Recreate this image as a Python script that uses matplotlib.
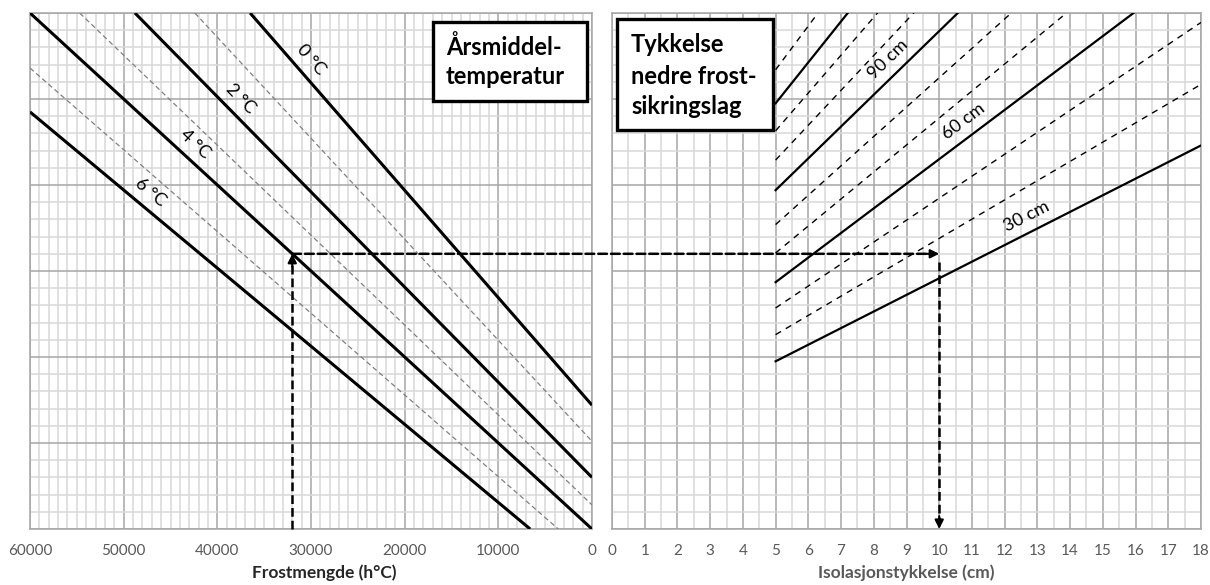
import numpy as np
import matplotlib
matplotlib.use("Agg")
import matplotlib.pyplot as plt
from matplotlib.patches import ConnectionPatch, Rectangle
from matplotlib.ticker import MultipleLocator

plt.rcParams['font.family'] = ['Lato', 'DejaVu Sans']

### left diagram: frost amount vs depth, one line per annual mean temperature
temps = [0, 1, 2, 3, 4, 5, 6]
frost_start = [36500, 42400, 48800, 54700, 60000, 60000, 60000]
depth_start = [6.0, 6.0, 6.0, 6.0, 6.0, 5.36, 4.85]
frost_end = [0, 0, 0, 0, 0, 3600, 6600]
depth_end = [1.44, 1.02, 0.60, 0.28, 0.0, 0.0, 0.0]
temp_label_frost = [31200, None, 38700, None, 43500, None, 48200]

### right diagram: insulation thickness vs depth, one line per layer thickness
thickness_cm = [30, 40, 50, 60, 70, 80, 90, 100, 110, 120, 130]
ins_start = 5
ins_end = 18
depth_at_start = [1.95, 2.26, 2.57, 2.87, 3.21, 3.54, 3.94, 4.29, 4.63, 4.95, 5.34]
depth_at_end = [4.46, 5.17, 5.89, 6.59, 7.29, 7.98, 8.75, 9.56, 10.35, 11.14, 11.97]
thick_label_ins = {30: 12.89, 60: 11.03, 90: 8.76}

frost_ticks = [60000, 50000, 40000, 30000, 20000, 10000, 0]
ins_ticks = list(range(0, 19))

### example reading
frost_read = 32000
depth_read = 3.2
ins_read = 10

MAJOR = '#a6a6a6'
MINOR = '#d9d9d9'
TICK = '#595959'


def style_axes(ax, xminor):
    """Graph-paper grid, no tick marks, no y labels."""
    ax.xaxis.set_minor_locator(MultipleLocator(xminor))
    ax.yaxis.set_major_locator(MultipleLocator(1))
    ax.yaxis.set_minor_locator(MultipleLocator(0.2))
    ax.set_ylim(0, 6)
    ax.set_yticklabels([])
    ax.grid(which='minor', color=MINOR, lw=1.1)
    ax.grid(which='major', color=MAJOR, lw=1.1)
    ax.set_axisbelow(True)
    ax.tick_params(which='both', length=0)
    ax.tick_params(axis='x', pad=11, labelsize=11, labelcolor=TICK)
    for s in ax.spines.values():
        s.set_color(MAJOR)
        s.set_linewidth(1.1)


def line_label(ax, x0, y0, x1, y1, xpos, text, offset=11, size=13):
    """Put text along a straight line, shifted off it on the upper side."""
    p0 = ax.transData.transform((x0, y0))
    p1 = ax.transData.transform((x1, y1))
    ang = np.degrees(np.arctan2(p1[1] - p0[1], p1[0] - p0[0]))
    if ang > 90:
        ang -= 180
    if ang < -90:
        ang += 180
    ypos = y0 + (y1 - y0) * (xpos - x0) / (x1 - x0)
    nx = -np.sin(np.radians(ang)) * offset
    ny = np.cos(np.radians(ang)) * offset
    ax.annotate(text, (xpos, ypos), xytext=(nx, ny), textcoords='offset points',
                rotation=ang, rotation_mode='anchor', ha='center', va='center',
                fontsize=size, color='black')


fig = plt.figure(figsize=(12.1, 5.85), dpi=100)
W, H = 1210, 585
ax1 = fig.add_axes([30 / W, (H - 529) / H, 562 / W, 516 / H])
ax2 = fig.add_axes([612 / W, (H - 529) / H, 589 / W, 516 / H])

### left panel
ax1.set_xlim(60000, 0)
ax1.set_xticks(frost_ticks)
ax1.set_xticklabels([str(t) for t in frost_ticks])
style_axes(ax1, 1000)

for i, t in enumerate(temps):
    xs = [frost_start[i], frost_end[i]]
    ys = [depth_start[i], depth_end[i]]
    if t % 2 == 0:
        ax1.plot(xs, ys, color='black', lw=2.2, solid_capstyle='butt', zorder=3)
    else:
        ax1.plot(xs, ys, color='#808080', lw=0.9, ls=(0, (4, 2.5)), zorder=3)

for i, t in enumerate(temps):
    if temp_label_frost[i] is None:
        continue
    line_label(ax1, frost_start[i], depth_start[i], frost_end[i], depth_end[i],
               temp_label_frost[i], f"{t} \u00b0C")

ax1.set_xlabel('Frostmengde (h\u00b0C)', fontsize=12.5, fontweight='bold',
               color='#262626', va='center')
ax1.xaxis.set_label_coords(0.523, -(573 - 529) / 516)

### right panel
ax2.set_xlim(0, 18)
ax2.set_xticks(ins_ticks)
ax2.set_xticklabels([str(t) for t in ins_ticks])
style_axes(ax2, 0.5)

for i, th in enumerate(thickness_cm):
    xs = [ins_start, ins_end]
    ys = [depth_at_start[i], depth_at_end[i]]
    if th % 30 == 0:
        ax2.plot(xs, ys, color='black', lw=1.6, zorder=3)
    else:
        ax2.plot(xs, ys, color='black', lw=1.0, ls=(0, (4.5, 4)), zorder=3)

for i, th in enumerate(thickness_cm):
    if th in thick_label_ins:
        line_label(ax2, ins_start, depth_at_start[i], ins_end, depth_at_end[i],
                   thick_label_ins[th], f"{th} cm")

ax2.set_xlabel('Isolasjonstykkelse (cm)', fontsize=12.5, fontweight='bold',
               color=TICK, va='center')
ax2.xaxis.set_label_coords(0.5, -(573 - 529) / 516)

### reading arrows
dash = (0, (3.5, 1.6))
head = dict(arrowstyle='-|>', color='black', lw=1.5, mutation_scale=13,
            shrinkA=0, shrinkB=0)
ax1.plot([frost_read, frost_read], [0, depth_read - 0.1], color='black', lw=1.8,
         ls=dash, zorder=4, clip_on=False)
ax1.annotate('', xy=(frost_read, depth_read), xytext=(frost_read, depth_read - 0.15),
             arrowprops=head, zorder=5)
con = ConnectionPatch(xyA=(frost_read, depth_read), coordsA=ax1.transData,
                      xyB=(ins_read - 0.2, depth_read), coordsB=ax2.transData,
                      color='black', lw=1.8, linestyle=dash, zorder=4)
fig.add_artist(con)
ax2.annotate('', xy=(ins_read, depth_read), xytext=(ins_read - 0.4, depth_read),
             arrowprops=head, zorder=5)
ax2.plot([ins_read, ins_read], [depth_read - 0.1, 0.1], color='black', lw=1.8,
         ls=dash, zorder=4)
ax2.annotate('', xy=(ins_read, 0), xytext=(ins_read, 0.15),
             arrowprops=head, zorder=5)


### caption boxes
def caption(x0, y0, x1, y1, lines, tx, ty):
    fig.add_artist(Rectangle((x0 / W, 1 - y1 / H), (x1 - x0) / W, (y1 - y0) / H,
                             transform=fig.transFigure, facecolor='white',
                             edgecolor='black', lw=2.4, zorder=6))
    for k, s in enumerate(lines):
        fig.text(tx / W, 1 - (ty[k]) / H, s, fontsize=17, fontweight='bold',
                 ha='left', va='center', color='black', zorder=7)


caption(433, 22, 587, 101, ['\u00c5rsmiddel-', 'temperatur'], 446, [47, 77])
caption(617, 19, 773, 130, ['Tykkelse', 'nedre frost-', 'sikringslag'], 631, [45, 76, 107])

fig.savefig('out.png', dpi=100)
